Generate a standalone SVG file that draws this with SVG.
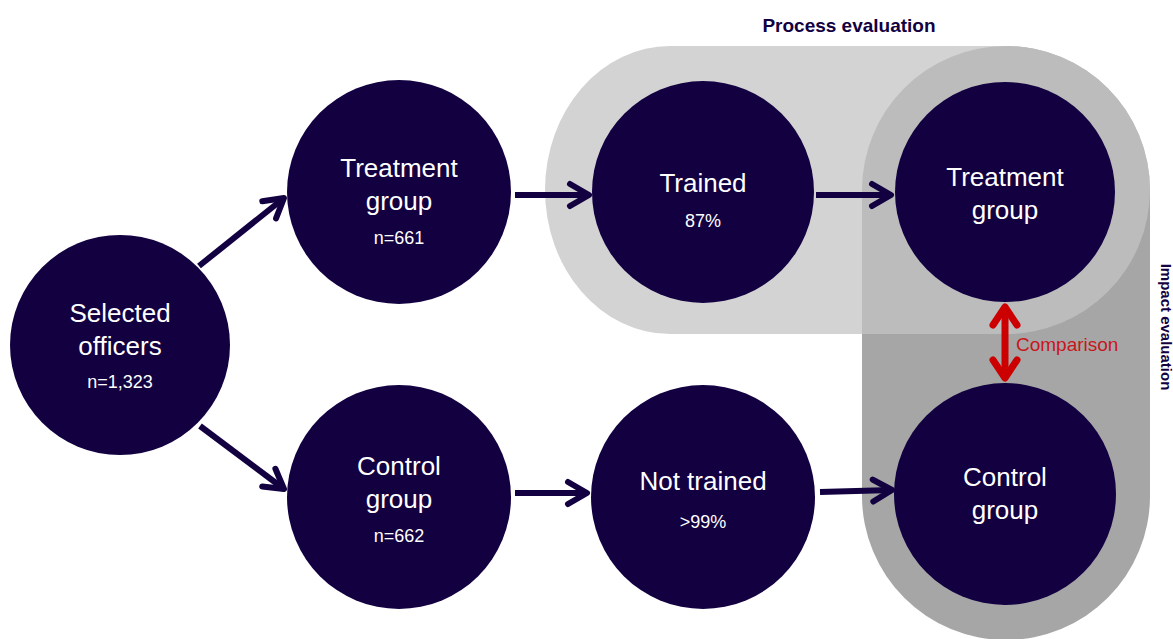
<svg xmlns="http://www.w3.org/2000/svg" width="1173" height="639" viewBox="0 0 1173 639">
  <style>
    .node { fill: #120041; }
    .lbl { font-family: "Liberation Sans", Arial, sans-serif; fill: #ffffff; text-anchor: middle; font-size: 26px; }
    .sub { font-family: "Liberation Sans", Arial, sans-serif; fill: #ffffff; text-anchor: middle; font-size: 18px; }
    .head { font-family: "Liberation Sans", Arial, sans-serif; fill: #120041; font-weight: bold; text-anchor: middle; }
    .flow { fill: none; stroke: #120041; stroke-width: 6; }
    .cmp { fill: none; stroke: #cc0000; stroke-width: 7; }
  </style>
  <defs>
    <marker id="chev" viewBox="-26 -16 30 32" markerWidth="30" markerHeight="32" refX="0" refY="0" orient="auto" markerUnits="userSpaceOnUse">
      <path d="M-19,-11 L0,0 L-19,11" fill="none" stroke="#120041" stroke-width="6" stroke-linecap="round" stroke-linejoin="round"/>
    </marker>
    <marker id="chevRed" viewBox="-26 -16 30 32" markerWidth="30" markerHeight="32" refX="0" refY="0" orient="auto-start-reverse" markerUnits="userSpaceOnUse">
      <path d="M-18,-12 L0,0 L-18,12" fill="none" stroke="#cc0000" stroke-width="7" stroke-linecap="round" stroke-linejoin="round"/>
    </marker>
  </defs>

  <!-- evaluation areas -->
  <g id="impact-area">
    <rect x="862" y="46" width="288" height="594" rx="144" ry="144" fill="#a6a6a6"/>
  </g>
  <g id="process-area">
    <path d="M670,46 H1006 A144,144 0 0 1 1006,334 H670 A125,144 0 0 1 670,46 Z" fill="#c4c4c4" fill-opacity="0.74"/>
  </g>
  <text class="head" x="849" y="32" font-size="19">Process evaluation</text>
  <text class="head" font-size="15" transform="translate(1161,327) rotate(90)">Impact evaluation</text>

  <!-- connectors -->
  <g id="connectors">
    <path class="flow" d="M199,266 L284,198" marker-end="url(#chev)"/>
    <path class="flow" d="M200,426 L284,489" marker-end="url(#chev)"/>
    <path class="flow" d="M515,195 L589,195" marker-end="url(#chev)"/>
    <path class="flow" d="M816,195 L891,195" marker-end="url(#chev)"/>
    <path class="flow" d="M515,493 L587,493" marker-end="url(#chev)"/>
    <path class="flow" d="M820,492 L892,490" marker-end="url(#chev)"/>
    <path class="cmp" d="M1005,307 L1005,378" marker-start="url(#chevRed)" marker-end="url(#chevRed)"/>
    <text x="1016" y="351" font-family="Liberation Sans, Arial, sans-serif" font-size="19" fill="#c8161d">Comparison</text>
  </g>

  <!-- nodes -->
  <g id="selected-officers">
    <circle class="node" cx="120" cy="345" r="110"/>
    <text class="lbl" x="120" y="322">Selected</text>
    <text class="lbl" x="120" y="355">officers</text>
    <text class="sub" x="120" y="388">n=1,323</text>
  </g>
  <g id="treatment-group">
    <circle class="node" cx="399" cy="192" r="112"/>
    <text class="lbl" x="399" y="177">Treatment</text>
    <text class="lbl" x="399" y="210">group</text>
    <text class="sub" x="399" y="244">n=661</text>
  </g>
  <g id="control-group">
    <circle class="node" cx="399" cy="497" r="112"/>
    <text class="lbl" x="399" y="475">Control</text>
    <text class="lbl" x="399" y="508">group</text>
    <text class="sub" x="399" y="542">n=662</text>
  </g>
  <g id="trained">
    <circle class="node" cx="703" cy="192" r="111"/>
    <text class="lbl" x="703" y="192">Trained</text>
    <text class="sub" x="703" y="227">87%</text>
  </g>
  <g id="not-trained">
    <circle class="node" cx="703" cy="497" r="112"/>
    <text class="lbl" x="703" y="490">Not trained</text>
    <text class="sub" x="703" y="528">&gt;99%</text>
  </g>
  <g id="treatment-outcome">
    <circle class="node" cx="1005" cy="192" r="110"/>
    <text class="lbl" x="1005" y="186">Treatment</text>
    <text class="lbl" x="1005" y="219">group</text>
  </g>
  <g id="control-outcome">
    <circle class="node" cx="1005" cy="494" r="111"/>
    <text class="lbl" x="1005" y="486">Control</text>
    <text class="lbl" x="1005" y="519">group</text>
  </g>
</svg>
